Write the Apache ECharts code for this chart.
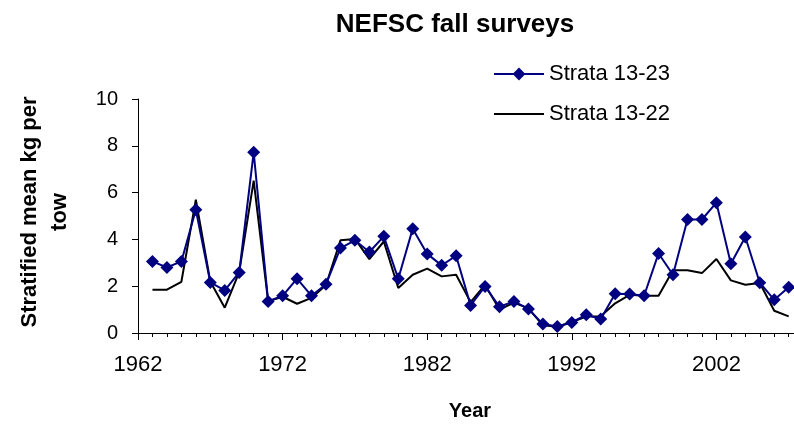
<!DOCTYPE html>
<html>
<head>
<meta charset="utf-8">
<script src="https://cdn.jsdelivr.net/npm/echarts@6/dist/echarts.min.js"></script>
<style>
  html, body { margin: 0; padding: 0; background: #fff; }
  #chart { width: 794px; height: 424px; }
</style>
</head>
<body>
<div id="chart"></div>
<script>
// survey years and stratified mean kg per tow
const years = [1963, 1964, 1965, 1966, 1967, 1968, 1969, 1970, 1971, 1972,
  1973, 1974, 1975, 1976, 1977, 1978, 1979, 1980, 1981, 1982,
  1983, 1984, 1985, 1986, 1987, 1988, 1989, 1990, 1991, 1992,
  1993, 1994, 1995, 1996, 1997, 1998, 1999, 2000, 2001, 2002,
  2003, 2004, 2005, 2006, 2007]

const strata1323 = [3.06, 2.80, 3.06, 5.27, 2.16, 1.82, 2.59, 7.72, 1.35, 1.59,
  2.32, 1.59, 2.08, 3.63, 3.96, 3.46, 4.13, 2.32, 4.46, 3.38,
  2.89, 3.30, 1.18, 1.99, 1.12, 1.35, 1.03, 0.38, 0.28, 0.45,
  0.78, 0.60, 1.68, 1.67, 1.59, 3.40, 2.49, 4.85, 4.85, 5.57,
  2.96, 4.10, 2.15, 1.42, 1.96]

const strata1322 = [1.85, 1.85, 2.19, 5.70, 2.20, 1.08, 2.60, 6.51, 1.35, 1.55,
  1.25, 1.50, 2.05, 3.96, 4.02, 3.16, 3.91, 1.92, 2.49, 2.75,
  2.42, 2.49, 1.32, 2.06, 1.00, 1.30, 1.05, 0.33, 0.27, 0.47,
  0.70, 0.72, 1.27, 1.63, 1.59, 1.59, 2.68, 2.68, 2.56, 3.16,
  2.25, 2.06, 2.14, 0.95, 0.71]

const chart = echarts.init(document.getElementById("chart"))

chart.setOption({
  animation: false,
  backgroundColor: "#fff",
  textStyle: { fontFamily: "Liberation Sans, Arial, sans-serif" },
  grid: {
    left: 138,
    top: 99,
    width: 723,   // axis runs on past the right edge, as in the original crop
    height: 234,
    containLabel: false,
    outerBoundsMode: "none"
  },
  legend: {
    orient: "vertical",
    left: 493,
    top: 63,
    padding: 0,
    itemWidth: 50,
    itemHeight: 16,
    itemGap: 18,
    textStyle: { fontSize: 22, color: "#000" },
    data: [
      { name: "Strata 13-23" },
      { name: "Strata 13-22", itemStyle: { color: "rgba(0,0,0,0)", borderWidth: 0 } }
    ]
  },
  xAxis: {
    type: "value",
    min: 1962,
    max: 2012,
    interval: 10,
    axisLine: { lineStyle: { color: "#000", width: 1 } },
    axisTick: { show: true, length: 7, lineStyle: { color: "#000", width: 1 } },
    // one small tick per year
    minorTick: { show: true, splitNumber: 10, length: 4, lineStyle: { color: "#000", width: 1 } },
    axisLabel: { fontSize: 22, color: "#000", margin: 21, formatter: v => String(v) },
    splitLine: { show: false },
    minorSplitLine: { show: false }
  },
  yAxis: {
    type: "value",
    min: 0,
    max: 10,
    interval: 2,
    axisLine: { show: true, lineStyle: { color: "#000", width: 1 } },
    axisTick: { show: true, length: 6, lineStyle: { color: "#000" } },
    axisLabel: { fontSize: 20, color: "#000", margin: 20 },
    splitLine: { show: false }
  },
  graphic: [
    {
      type: "text",
      x: 455, y: 25,
      style: {
        text: "NEFSC fall surveys",
        textAlign: "center", textVerticalAlign: "middle",
        font: "bold 26px 'Liberation Sans', Arial, sans-serif",
        fill: "#000"
      }
    },
    {
      type: "text",
      x: 45, y: 212,
      rotation: Math.PI / 2,
      style: {
        text: "Stratified mean kg per\ntow",
        textAlign: "center", textVerticalAlign: "middle",
        font: "bold 22px 'Liberation Sans', Arial, sans-serif",
        lineHeight: 30,
        fill: "#000"
      }
    },
    {
      type: "text",
      x: 470, y: 411,
      style: {
        text: "Year",
        textAlign: "center", textVerticalAlign: "middle",
        font: "bold 20px 'Liberation Sans', Arial, sans-serif",
        fill: "#000"
      }
    }
  ],
  series: [
    {
      name: "Strata 13-22",
      type: "line",
      data: years.map((y, i) => [y, strata1322[i]]),
      symbol: "none",
      lineStyle: { color: "#000", width: 2 },
      itemStyle: { color: "#000" },
      z: 2
    },
    {
      name: "Strata 13-23",
      type: "line",
      data: years.map((y, i) => [y, strata1323[i]]),
      symbol: "diamond",
      symbolSize: 13,
      lineStyle: { color: "#000080", width: 2 },
      itemStyle: { color: "#000080" },
      z: 3
    }
  ]
})
</script>
</body>
</html>
